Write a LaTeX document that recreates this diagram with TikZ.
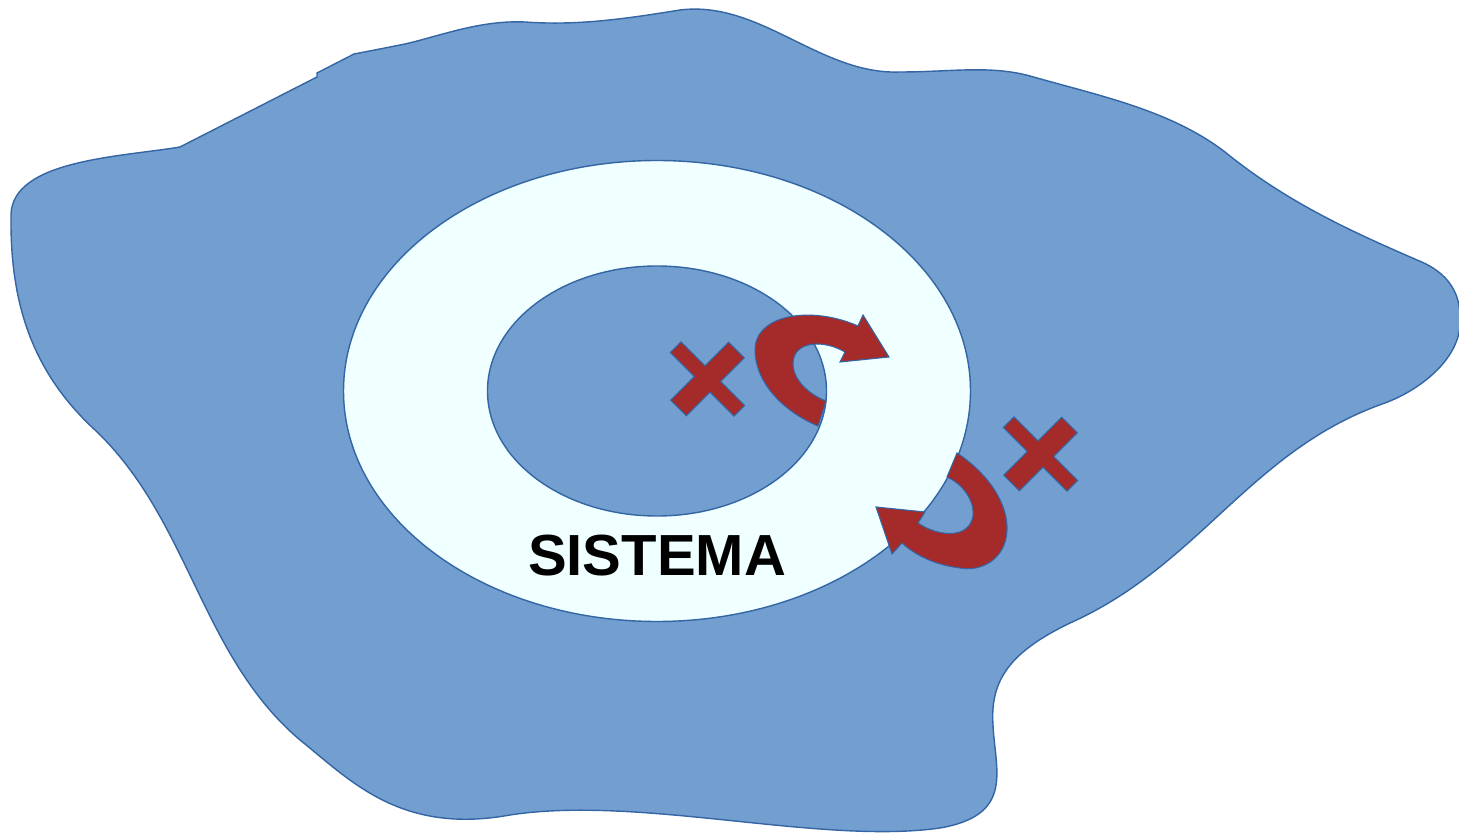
\documentclass[tikz,border=0pt]{standalone}
\usepackage{fontspec}
\setmainfont{Liberation Sans}
\usepackage{xcolor}
\usetikzlibrary{shapes.geometric,positioning}

\definecolor{azul_fondo}{HTML}{729FCF}
\definecolor{azul_borde}{HTML}{3465A4}
\definecolor{celeste}{HTML}{F0FFFF}
\definecolor{rojo_flecha}{HTML}{A52A2A}

\tikzset{
  entorno/.style={fill=azul_fondo, draw=azul_borde, line width=0.4pt},
  anillo/.style={ellipse, draw=azul_borde, line width=0.4pt, inner sep=0pt},
  flecha/.style={fill=rojo_flecha, draw=azul_borde, line width=0.3pt},
}

\begin{document}
\begin{tikzpicture}[x=0.1mm, y=-0.1mm]
    \useasboundingbox (0,0) rectangle (1459,834);

    \draw[entorno] (180,147) -- (317,77) -- (317,73) -- (354,54)
      .. controls (375,50) and (390,47) .. (405,44)
      .. controls (440,36) and (480,20) .. (525,22)
      .. controls (580,26) and (630,18) .. (680,10)
      .. controls (760,0) and (820,75) .. (900,72)
      .. controls (950,72) and (990,65) .. (1030,76)
      .. controls (1100,96) and (1170,110) .. (1225,152)
      .. controls (1290,205) and (1360,235) .. (1417,260)
      .. controls (1450,273) and (1462,295) .. (1460,325)
      .. controls (1458,360) and (1420,390) .. (1385,403)
      .. controls (1250,450) and (1200,565) .. (1070,623)
      .. controls (1010,652) and (990,680) .. (993,725)
      .. controls (995,770) and (1015,815) .. (940,828)
      .. controls (820,845) and (640,795) .. (510,815)
      .. controls (400,835) and (350,780) .. (300,740)
      .. controls (200,655) and (190,520) .. (95,430)
      .. controls (30,370) and (10,300) .. (11,215)
      .. controls (12,160) and (120,157) .. (180,147) -- cycle;

    \node[anillo, fill=celeste, minimum width=62.7mm, minimum height=46.1mm] at (657,391) (sistema) {};
    \node[anillo, fill=azul_fondo, minimum width=33.9mm, minimum height=25mm] at (sistema.center) (interior) {};
    \node at (657,556) (etiqueta) {\fontsize{16.5}{20}\selectfont\bfseries SISTEMA};

    \foreach \cx/\cy in {707.5/379, 1040.5/454}
      \filldraw[flecha, shift={(\cx,\cy)}, rotate=-45]
        (-45,-7.5) -- (-11,-7.5) -- (-11,-41) -- (11,-41) -- (11,-7.5) -- (45,-7.5)
        -- (45,7.5) -- (11,7.5) -- (11,41) -- (-11,41) -- (-11,7.5) -- (-45,7.5) -- cycle;

    \filldraw[flecha] (818,426) .. controls (780,410) and (755,380) .. (755,350)
      .. controls (755,315) and (810,305) .. (858,326)
      -- (863,315) -- (889,357) -- (840,362) -- (845,352)
      .. controls (825,340) and (795,340) .. (793,362)
      .. controls (792,380) and (810,395) .. (826,401) -- cycle;

    \filldraw[flecha] (957,453) .. controls (990,475) and (1008,505) .. (1007,530)
      .. controls (1006,560) and (980,572) .. (960,568)
      .. controls (935,565) and (915,555) .. (902,543)
      -- (892,554) -- (876,507) -- (925,512) -- (918,523)
      .. controls (935,535) and (965,540) .. (972,520)
      .. controls (977,505) and (965,485) .. (947,477) -- cycle;
\end{tikzpicture}
\end{document}
